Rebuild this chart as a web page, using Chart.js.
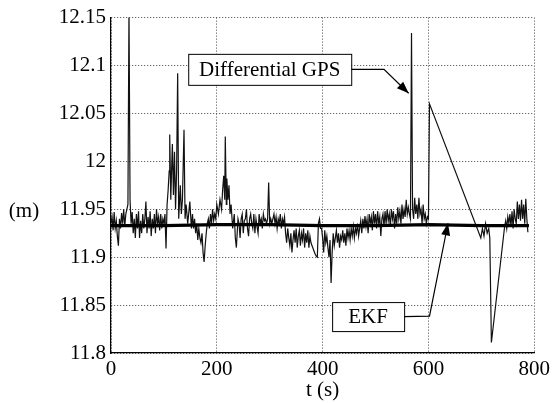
<!DOCTYPE html>
<html>
<head>
<meta charset="utf-8">
<script src="https://cdn.jsdelivr.net/npm/chart.js@4"></script>
<style>
  body { margin: 0; background: #fff; }
  #fontWarm { position: absolute; left: 0; top: 0; font: 21px "Liberation Serif"; color: #fff; z-index: -1; }
</style>
</head>
<body>
<div id="fontWarm">0123456789.() EKF Differential GPS t s m</div>
<canvas id="heightChart" width="554" height="403"></canvas>
<script>
// Differential GPS samples (time in s, height in m)
const gpsTime = [
    0, 2, 4, 6, 8, 10, 12, 14, 16, 18, 20, 22, 24, 26, 28, 30, 32, 34, 36,
    38, 40, 42, 44, 46, 48, 50, 52, 54, 56, 58, 60, 62, 64, 66, 68, 70, 72, 74, 76, 78, 80, 82, 84, 86, 88, 90, 92, 94, 96, 98, 100, 102, 104,
    106, 108, 110, 111, 113, 115, 116, 118, 120, 122, 124, 126, 128, 131, 133, 135, 138, 140, 142, 145, 149, 152,
    154, 156, 158, 160, 162, 164, 166, 168, 170, 172, 174, 176, 178, 180, 182, 184, 186, 188, 190, 192, 194, 196, 198, 200,
    203, 206, 209, 211, 213, 215, 216, 218, 219, 221, 223, 225, 227, 230, 233, 235, 237, 240,
    242, 244, 246, 248, 250, 252, 254, 256, 258, 260, 262, 264, 266, 268, 270, 272, 274, 276, 278, 280, 282, 284, 286, 288, 290, 292, 294, 296, 298, 300, 302, 304,
    306, 308, 310, 312, 314, 316, 318, 320, 322, 324, 326, 328, 330, 332, 334, 336, 338, 340, 342, 344,
    346, 348, 350, 352, 354, 356, 358, 360, 362, 364, 366, 368, 370, 372, 374, 376, 378, 380, 382, 384, 386, 388, 390, 392, 394, 396,
    398, 400, 402, 404, 406, 408, 410, 412, 414, 416, 418, 420, 422, 424, 426, 428, 430, 432, 434, 436,
    438, 440, 442, 444, 446, 448, 450, 452, 454, 456, 458, 460, 462, 464, 466, 468, 470, 472, 474, 476,
    478, 480, 482, 484, 486, 488, 490, 492, 494, 496, 498, 500, 502, 504, 506, 508, 510, 512, 514, 516,
    518, 520, 522, 524, 526, 528, 530, 532, 534, 536, 538, 540, 542, 544, 546, 548, 550, 552, 554, 556,
    558, 560, 562, 564, 566, 568, 570, 572, 574, 576, 578, 580, 582, 584, 586, 588, 590, 592, 594, 596, 598, 600,
    602, 699, 702, 705, 708, 711, 714, 716, 719,
    744, 746, 748, 750, 752, 754, 756, 758, 760, 762, 764, 766, 768, 770, 772, 774, 776, 778, 780, 782, 784, 786, 788
];
const gpsValue = [
    11.935, 11.942, 11.928, 11.947, 11.93, 11.938, 11.922, 11.912, 11.94, 11.93, 11.946, 11.935, 11.95, 11.932, 11.945, 11.95, 11.955, 12.16, 11.96,
    11.935, 11.947, 11.925, 11.94, 11.92, 11.945, 11.93, 11.948, 11.92, 11.938, 11.925, 11.945, 11.93, 11.94, 11.958, 11.925, 11.942, 11.93, 11.948, 11.922, 11.94, 11.93, 11.945, 11.925, 11.95, 11.935, 11.942, 11.928, 11.945, 11.93, 11.94, 11.935, 11.945, 11.909,
    11.955, 11.97, 11.99, 12.028, 11.96, 12.0, 12.018, 11.965, 12.01, 11.95, 11.99, 12.092, 11.94, 11.975, 11.945, 11.96, 12.033, 11.94, 11.955, 11.935, 11.958, 11.93,
    11.945, 11.93, 11.94, 11.925, 11.935, 11.918, 11.93, 11.92, 11.915, 11.925, 11.905, 11.895, 11.912, 11.925, 11.935, 11.94, 11.93, 11.945, 11.935, 11.95, 11.938, 11.945, 11.94, 11.955,
    11.945, 11.96, 11.95, 11.97, 11.985, 11.96, 12.026, 11.955, 11.982, 11.96, 11.975, 11.945, 11.955, 11.93, 11.945, 11.92, 11.91, 11.94,
    11.935, 11.92, 11.94, 11.945, 11.925, 11.938, 11.94, 11.95, 11.93, 11.922, 11.94, 11.945, 11.935, 11.93, 11.945, 11.925, 11.94, 11.932, 11.925, 11.945, 11.935, 11.94, 11.93, 11.945, 11.938, 11.94, 11.935, 11.94, 11.978, 11.935, 11.94, 11.935,
    11.94, 11.945, 11.935, 11.942, 11.93, 11.94, 11.935, 11.945, 11.93, 11.94, 11.935, 11.942, 11.925, 11.915, 11.93, 11.92, 11.912, 11.925, 11.905, 11.918,
    11.928, 11.915, 11.93, 11.91, 11.922, 11.928, 11.912, 11.925, 11.918, 11.93, 11.91, 11.925, 11.915, 11.928, 11.91, 11.922, 11.915, 11.912, 11.909, 11.906, 11.903, 11.901, 11.9, 11.935, 11.94, 11.93,
    11.93, 11.92, 11.905, 11.928, 11.915, 11.922, 11.91, 11.9, 11.918, 11.873, 11.905, 11.925, 11.912, 11.92, 11.928, 11.915, 11.925, 11.91, 11.922, 11.918,
    11.928, 11.915, 11.925, 11.912, 11.93, 11.92, 11.928, 11.918, 11.93, 11.922, 11.932, 11.92, 11.93, 11.925, 11.935, 11.922, 11.93, 11.938, 11.925, 11.94,
    11.93, 11.943, 11.932, 11.94, 11.925, 11.945, 11.935, 11.942, 11.928, 11.948, 11.935, 11.945, 11.93, 11.948, 11.935, 11.942, 11.922, 11.94, 11.945, 11.932,
    11.948, 11.935, 11.95, 11.938, 11.945, 11.932, 11.95, 11.94, 11.948, 11.93, 11.945, 11.935, 11.952, 11.94, 11.948, 11.935, 11.955, 11.94, 11.95, 11.942,
    11.96, 11.945, 11.952, 11.945, 11.94, 12.134, 11.95, 11.94, 11.962, 11.945, 11.955, 11.94, 11.962, 11.945, 11.95, 11.935, 11.955, 11.94, 11.945, 11.935, 11.942, 11.94,
    12.06, 11.92, 11.93, 11.922, 11.935, 11.925, 11.93, 11.92, 11.811,
    11.932, 11.938, 11.93, 11.942, 11.935, 11.945, 11.932, 11.948, 11.93, 11.95, 11.94, 11.935, 11.958, 11.94, 11.955, 11.938, 11.96, 11.94, 11.955, 11.935, 11.961, 11.94, 11.926
];

// EKF estimate, nearly flat
const ekfTime = [0, 100, 200, 300, 400, 500, 600, 700, 790];
const ekfValue = [11.933, 11.933, 11.934, 11.934, 11.933, 11.933, 11.934, 11.933, 11.933];

// axis ticks
const xTickValues = [0, 200, 400, 600, 800];
const xTickLabels = ['0', '200', '400', '600', '800'];
const yTickValues = [11.8, 11.85, 11.9, 11.95, 12.0, 12.05, 12.1, 12.15];
const yTickLabels = ['11.8', '11.85', '11.9', '11.95', '12', '12.05', '12.1', '12.15'];

const serifFamily = '"Liberation Serif"';
const textFont = '21px "Liberation Serif"';

// callout boxes: centre in data units, then leader line points
const gpsNote = { text: 'Differential GPS', at: [300, 12.096], boxW: 163, boxH: 31, path: [[516, 12.096], [562.6, 12.071]] };
const ekfNote = { text: 'EKF', at: [486, 11.838], boxW: 72, boxH: 29, path: [[602, 11.8385], [637, 11.9354]] };

function drawCallout(ctx, x, y, note) {
    const cx = x.getPixelForValue(note.at[0]);
    const cy = y.getPixelForValue(note.at[1]);
    const left = cx - note.boxW / 2, top = cy - note.boxH / 2;

    // leader line with arrow head
    const pts = [[left + note.boxW, cy]].concat(note.path.map(p => [x.getPixelForValue(p[0]), y.getPixelForValue(p[1])]));
    ctx.strokeStyle = '#000';
    ctx.lineWidth = 1.2;
    ctx.beginPath();
    ctx.moveTo(pts[0][0], pts[0][1]);
    for (let i = 1; i < pts.length; i++) ctx.lineTo(pts[i][0], pts[i][1]);
    ctx.stroke();
    const tip = pts[pts.length - 1], prev = pts[pts.length - 2];
    const ang = Math.atan2(tip[1] - prev[1], tip[0] - prev[0]);
    ctx.beginPath();
    ctx.moveTo(tip[0], tip[1]);
    ctx.lineTo(tip[0] - 12 * Math.cos(ang) + 4.5 * Math.sin(ang), tip[1] - 12 * Math.sin(ang) - 4.5 * Math.cos(ang));
    ctx.lineTo(tip[0] - 12 * Math.cos(ang) - 4.5 * Math.sin(ang), tip[1] - 12 * Math.sin(ang) + 4.5 * Math.cos(ang));
    ctx.closePath();
    ctx.fillStyle = '#000';
    ctx.fill();

    // box + text
    ctx.fillStyle = '#fff';
    ctx.fillRect(left, top, note.boxW, note.boxH);
    ctx.lineWidth = 1;
    ctx.strokeRect(left + 0.5, top + 0.5, note.boxW, note.boxH);
    ctx.fillStyle = '#000';
    ctx.font = textFont;
    ctx.textAlign = 'center';
    ctx.textBaseline = 'middle';
    ctx.fillText(note.text, cx, cy + 1);
}

const notesPlugin = {
    id: 'notes',
    afterDatasetsDraw(chart) {
        const { ctx, scales: { x, y } } = chart;
        ctx.save();
        drawCallout(ctx, x, y, gpsNote);
        drawCallout(ctx, x, y, ekfNote);
        ctx.font = textFont;
        ctx.fillStyle = '#000';
        ctx.textAlign = 'center';
        ctx.textBaseline = 'middle';
        ctx.fillText('(m)', 24, y.getPixelForValue(11.95) + 2);
        ctx.restore();
    }
};

Chart.defaults.font.family = serifFamily;
Chart.defaults.font.size = 21;
Chart.defaults.color = '#000';

const gridStyle = { color: '#444', lineWidth: 1, drawTicks: false };

const canvas = document.getElementById('heightChart');
const ctx = canvas.getContext('2d');
ctx.font = textFont;
ctx.fillText('0123456789 EKF', 0, 20);
ctx.clearRect(0, 0, canvas.width, canvas.height);

const chart = new Chart(ctx, {
    type: 'line',
    data: {
        datasets: [{
            label: 'EKF',
            data: ekfTime.map((t, i) => ({ x: t, y: ekfValue[i] })),
            borderColor: '#000',
            borderWidth: 3.2,
            pointRadius: 0,
            tension: 0,
            order: 0
        }, {
            label: 'Differential GPS',
            data: gpsTime.map((t, i) => ({ x: t, y: gpsValue[i] })),
            borderColor: '#111',
            borderWidth: 1.2,
            pointRadius: 0,
            tension: 0,
            order: 1
        }]
    },
    options: {
        responsive: false,
        animation: false,
        layout: { padding: { top: 17, right: 16, left: 0, bottom: 0 } },
        plugins: { legend: { display: false }, tooltip: { enabled: false } },
        scales: {
            x: {
                type: 'linear',
                min: 0,
                max: 800,
                afterBuildTicks: s => { s.ticks = xTickValues.map(v => ({ value: v })); },
                afterFit: s => { s.height = 50; },
                ticks: { padding: 4, maxRotation: 0, callback: (v, i) => xTickLabels[i] },
                grid: gridStyle,
                // in v4 border.dash styles the grid lines; the axis line stays solid
                border: { display: true, color: '#000', width: 1.2, dash: [1, 2] },
                title: { display: true, text: 't (s)', padding: { top: 0, bottom: 0 } }
            },
            y: {
                min: 11.8,
                max: 12.15,
                afterBuildTicks: s => { s.ticks = yTickValues.map(v => ({ value: v })); },
                afterFit: s => { s.width = 111; },
                ticks: { padding: 5, callback: (v, i) => yTickLabels[i] },
                grid: gridStyle,
                border: { display: true, color: '#000', width: 1.2, dash: [1, 2] }
            }
        }
    },
    plugins: [notesPlugin]
});

window.addEventListener('load', () => chart.update());
</script>
</body>
</html>
